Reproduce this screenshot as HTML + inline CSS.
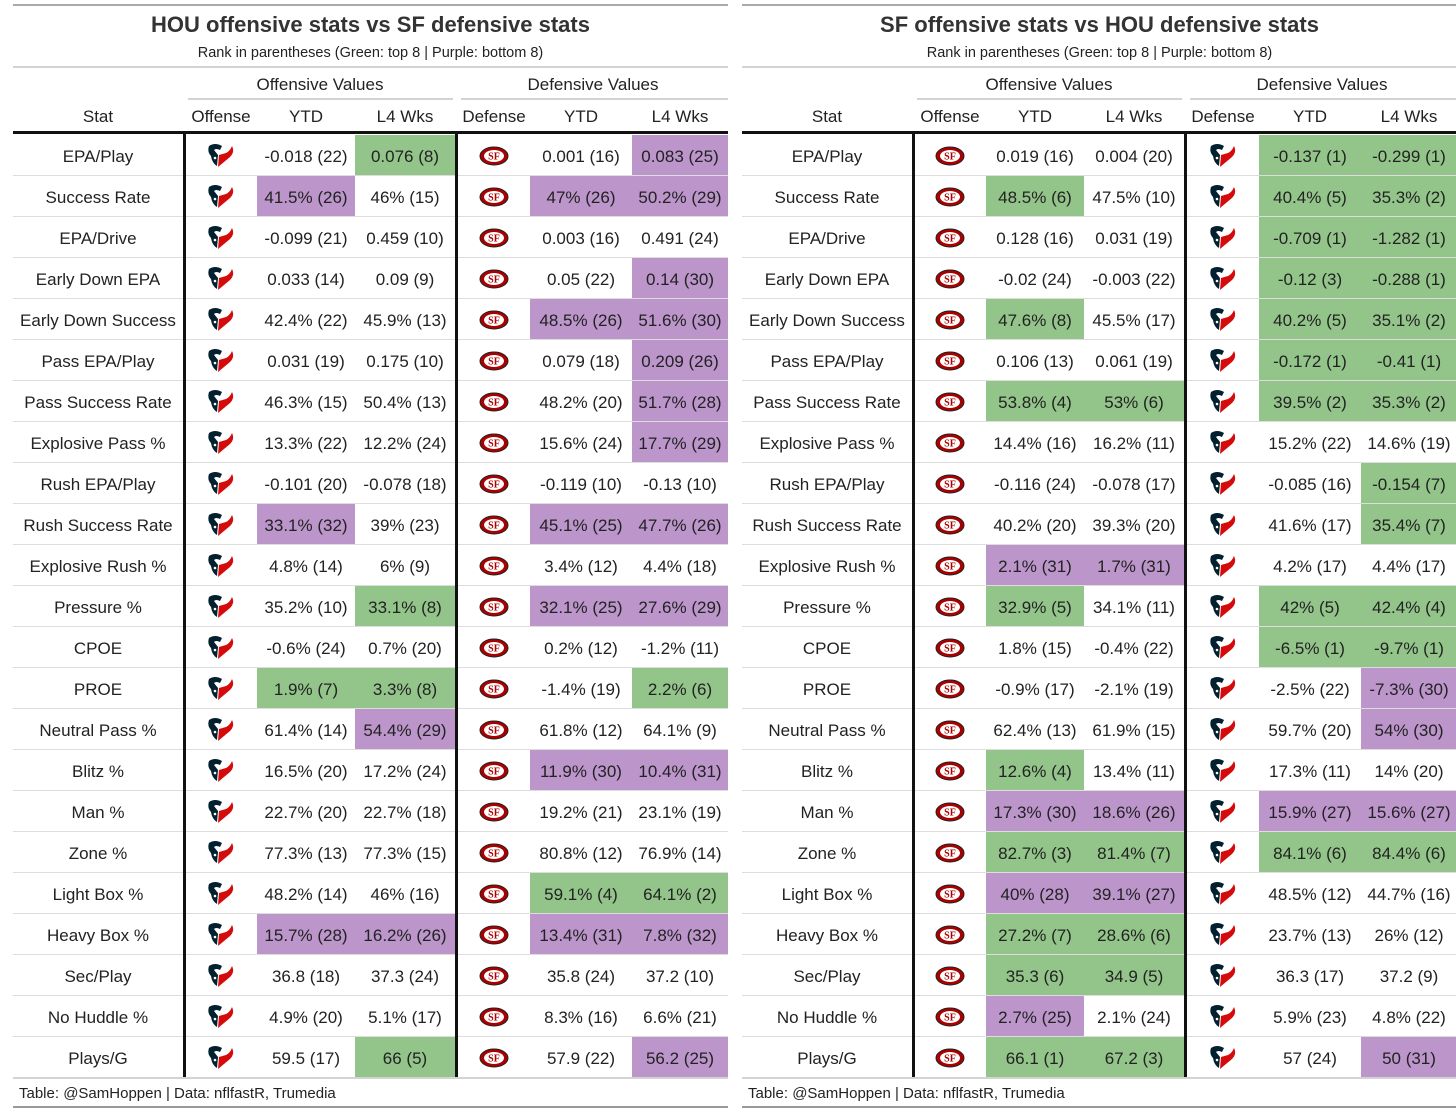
<!DOCTYPE html>
<html><head><meta charset="utf-8">
<style>
body{margin:0;width:1456px;height:1113px;background:#fff;overflow:hidden;position:relative;font-family:"Liberation Sans",sans-serif;color:#222}
.a{position:absolute;white-space:nowrap}
.c{text-align:center}
</style></head>
<body>
<div id="root"></div>
<script>
const stats=["EPA/Play","Success Rate","EPA/Drive","Early Down EPA","Early Down Success","Pass EPA/Play","Pass Success Rate","Explosive Pass %","Rush EPA/Play","Rush Success Rate","Explosive Rush %","Pressure %","CPOE","PROE","Neutral Pass %","Blitz %","Man %","Zone %","Light Box %","Heavy Box %","Sec/Play","No Huddle %","Plays/G"];
const houOffYTD=["-0.018 (22)","41.5% (26)","-0.099 (21)","0.033 (14)","42.4% (22)","0.031 (19)","46.3% (15)","13.3% (22)","-0.101 (20)","33.1% (32)","4.8% (14)","35.2% (10)","-0.6% (24)","1.9% (7)","61.4% (14)","16.5% (20)","22.7% (20)","77.3% (13)","48.2% (14)","15.7% (28)","36.8 (18)","4.9% (20)","59.5 (17)"];
const houOffL4=["0.076 (8)","46% (15)","0.459 (10)","0.09 (9)","45.9% (13)","0.175 (10)","50.4% (13)","12.2% (24)","-0.078 (18)","39% (23)","6% (9)","33.1% (8)","0.7% (20)","3.3% (8)","54.4% (29)","17.2% (24)","22.7% (18)","77.3% (15)","46% (16)","16.2% (26)","37.3 (24)","5.1% (17)","66 (5)"];
const sfDefYTD=["0.001 (16)","47% (26)","0.003 (16)","0.05 (22)","48.5% (26)","0.079 (18)","48.2% (20)","15.6% (24)","-0.119 (10)","45.1% (25)","3.4% (12)","32.1% (25)","0.2% (12)","-1.4% (19)","61.8% (12)","11.9% (30)","19.2% (21)","80.8% (12)","59.1% (4)","13.4% (31)","35.8 (24)","8.3% (16)","57.9 (22)"];
const sfDefL4=["0.083 (25)","50.2% (29)","0.491 (24)","0.14 (30)","51.6% (30)","0.209 (26)","51.7% (28)","17.7% (29)","-0.13 (10)","47.7% (26)","4.4% (18)","27.6% (29)","-1.2% (11)","2.2% (6)","64.1% (9)","10.4% (31)","23.1% (19)","76.9% (14)","64.1% (2)","7.8% (32)","37.2 (10)","6.6% (21)","56.2 (25)"];
const sfOffYTD=["0.019 (16)","48.5% (6)","0.128 (16)","-0.02 (24)","47.6% (8)","0.106 (13)","53.8% (4)","14.4% (16)","-0.116 (24)","40.2% (20)","2.1% (31)","32.9% (5)","1.8% (15)","-0.9% (17)","62.4% (13)","12.6% (4)","17.3% (30)","82.7% (3)","40% (28)","27.2% (7)","35.3 (6)","2.7% (25)","66.1 (1)"];
const sfOffL4=["0.004 (20)","47.5% (10)","0.031 (19)","-0.003 (22)","45.5% (17)","0.061 (19)","53% (6)","16.2% (11)","-0.078 (17)","39.3% (20)","1.7% (31)","34.1% (11)","-0.4% (22)","-2.1% (19)","61.9% (15)","13.4% (11)","18.6% (26)","81.4% (7)","39.1% (27)","28.6% (6)","34.9 (5)","2.1% (24)","67.2 (3)"];
const houDefYTD=["-0.137 (1)","40.4% (5)","-0.709 (1)","-0.12 (3)","40.2% (5)","-0.172 (1)","39.5% (2)","15.2% (22)","-0.085 (16)","41.6% (17)","4.2% (17)","42% (5)","-6.5% (1)","-2.5% (22)","59.7% (20)","17.3% (11)","15.9% (27)","84.1% (6)","48.5% (12)","23.7% (13)","36.3 (17)","5.9% (23)","57 (24)"];
const houDefL4=["-0.299 (1)","35.3% (2)","-1.282 (1)","-0.288 (1)","35.1% (2)","-0.41 (1)","35.3% (2)","14.6% (19)","-0.154 (7)","35.4% (7)","4.4% (17)","42.4% (4)","-9.7% (1)","-7.3% (30)","54% (30)","14% (20)","15.6% (27)","84.4% (6)","44.7% (16)","26% (12)","37.2 (9)","4.8% (22)","50 (31)"];

const HOU='<svg width="30" height="26" viewBox="0 0 30 26"><path d="M3 3 Q9 -1 16 3 L14 7 Q10 5 8 7 L12 12 L11 23 Q6 20 5 13 Q1 9 3 3Z" fill="#03202f"/><path d="M13 12 L20 10 Q24 8 26 3 Q29 9 24 14 Q18 19 12 24Z" fill="#d50a0a"/><circle cx="9" cy="15" r="1.3" fill="#fff"/></svg>';
const SF='<svg width="30" height="20" viewBox="0 0 30 20"><ellipse cx="15" cy="10" rx="14" ry="9" fill="#aa0000" stroke="#222" stroke-width="1"/><ellipse cx="15" cy="10" rx="10" ry="6" fill="#fff"/><text x="15" y="13.5" font-size="10" font-weight="bold" text-anchor="middle" fill="#aa0000" font-family="Liberation Serif,serif">SF</text></svg>';

const root=document.getElementById('root');
function el(x,y,w,h,css,html){const d=document.createElement('div');d.className='a';d.style.cssText=`left:${x}px;top:${y}px;width:${w}px;height:${h}px;`+css;if(html!==undefined)d.innerHTML=html;root.appendChild(d);return d;}
function rank(s){return parseInt(s.match(/\((\d+)\)/)[1]);}
const rowTop=135,rowH=41;

function table(ox,title,sub,offLogo,defLogo,c1,c2,c3,c4,name){
  const L=ox+13,R=Math.min(ox+728,1456);
  let d;
  d=el(L,4,R-L,2,'background:#aaa');
  d=el(ox+13,11,715,28,'font-size:22px;font-weight:bold;text-align:center;line-height:28px;color:#333',title);
  d=el(ox+13,43,715,20,'font-size:14.5px;text-align:center;line-height:20px;color:#222',sub);
  d=el(L,66,R-L,2,'background:#d3d3d3');
  d=el(ox+185,74,270,22,'font-size:17px;text-align:center;line-height:22px','Offensive Values');
  d=el(ox+188,98,265,2,'background:#d3d3d3');
  d=el(ox+458,74,270,22,'font-size:17px;text-align:center;line-height:22px','Defensive Values');
  d=el(ox+461,98,Math.min(267,1456-ox-461),2,'background:#d3d3d3');
  const cols=[[13,183,'Stat'],[185,257,'Offense'],[257,355,'YTD'],[355,455,'L4 Wks'],[458,530,'Defense'],[530,632,'YTD'],[632,728,'L4 Wks']];
  cols.forEach((c,i)=>{d=el(ox+c[0],106,c[1]-c[0],22,'font-size:17px;text-align:center;line-height:22px',c[2]);});
  d=el(L,131,R-L,3,'background:#111');
  const vals=[c1,c2,c3,c4];const vx=[[257,355],[355,455],[530,632],[632,728]];
  stats.forEach((s,i)=>{
    const y=rowTop+i*rowH;
    d=el(L,y+rowH-1,R-L,1,'background:#ddd');
    d=el(ox+13,y,170,rowH-1,'font-size:17px;text-align:center;line-height:'+(rowH+3)+'px',s);
    d=el(ox+185,y+1,72,rowH-1,'display:flex;align-items:center;justify-content:center',offLogo);
    d=el(ox+458,y+1,72,rowH-1,'display:flex;align-items:center;justify-content:center',defLogo);
    vals.forEach((arr,k)=>{
      const v=arr[i],r=rank(v);const bg=r<=8?'#93c58b':(r>=25?'#bc95cb':'transparent');
      d=el(ox+vx[k][0],y,vx[k][1]-vx[k][0],rowH-1,'background:'+bg+';font-size:17px;text-align:center;line-height:'+(rowH+3)+'px',v);
      
      
    });
  });
  const bot=rowTop+stats.length*rowH;
  d=el(ox+183,134,3,bot-134-1,'background:#111');
  d=el(ox+455,134,3,bot-134-1,'background:#111');
  d=el(L,bot-1,R-L,2,'background:#d3d3d3');
  d=el(ox+19,bot+5,500,22,'font-size:15px;line-height:22px','Table: @SamHoppen | Data: nflfastR, Trumedia');
  d=el(L,1106,R-L,2,'background:#999');
}
table(0,'HOU offensive stats vs SF defensive stats','Rank in parentheses (Green: top 8 | Purple: bottom 8)',HOU,SF,houOffYTD,houOffL4,sfDefYTD,sfDefL4,'hou-table');
table(729,'SF offensive stats vs HOU defensive stats','Rank in parentheses (Green: top 8 | Purple: bottom 8)',SF,HOU,sfOffYTD,sfOffL4,houDefYTD,houDefL4,'sf-table');
</script>
</body></html>
